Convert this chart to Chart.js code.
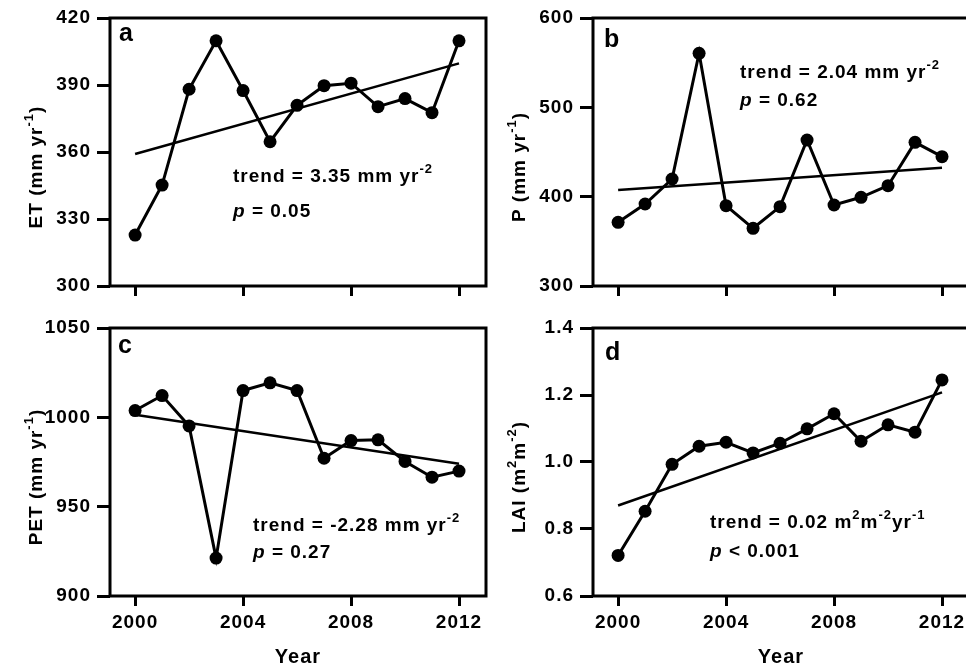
<!DOCTYPE html>
<html>
<head>
<meta charset="utf-8">
<script src="https://cdn.jsdelivr.net/npm/chart.js@4.4.1/dist/chart.umd.min.js"></script>
<style>
  html, body { margin: 0; padding: 0; background: #fff; overflow: hidden; }
  body { width: 966px; height: 669px; position: relative; }
  canvas { position: absolute; }
</style>
</head>
<body>
<canvas id="chartET" width="500" height="310" style="left:0;top:0"></canvas>
<canvas id="chartP" width="500" height="310" style="left:483px;top:0"></canvas>
<canvas id="chartPET" width="500" height="359" style="left:0;top:310px"></canvas>
<canvas id="chartLAI" width="500" height="359" style="left:483px;top:310px"></canvas>
<script>
// values, 2000-2012
const years = [2000, 2001, 2002, 2003, 2004, 2005, 2006, 2007, 2008, 2009, 2010, 2011, 2012];
const trendYears = [2000, 2012];
const yearTicks = [2000, 2004, 2008, 2012];

const etValues = [322.8, 345.2, 388.1, 409.8, 387.5, 364.6, 380.9, 389.7, 390.8, 380.3, 383.9, 377.6, 409.8];
const etTrend = [359.1, 399.7];
const etTicks = [300, 330, 360, 390, 420];

const pValues = [371.3, 391.8, 419.8, 560.5, 389.9, 364.6, 388.8, 463.4, 390.7, 399.3, 412.3, 460.8, 444.8];
const pTrend = [407.5, 432.5];
const pTicks = [300, 400, 500, 600];

const petValues = [1003.8, 1012.2, 995.2, 921.2, 1015.0, 1019.3, 1015.0, 977.1, 987.0, 987.4, 975.3, 966.5, 969.9];
const petTrend = [1001.4, 974.0];
const petTicks = [900, 950, 1000, 1050];

const laiValues = [0.721, 0.853, 0.993, 1.047, 1.059, 1.027, 1.056, 1.099, 1.144, 1.062, 1.111, 1.089, 1.245];
const laiTrend = [0.870, 1.208];
const laiTicks = [0.6, 0.8, 1.0, 1.2, 1.4];

const FAMILY = '"Liberation Sans", Arial, sans-serif';
const SPACING = '1px';

Chart.defaults.font.family = FAMILY;
Chart.defaults.font.size = 19;
Chart.defaults.font.weight = 'bold';
Chart.defaults.color = '#000';

function fontFor(kind) {
  if (kind === 'sup') return 'bold 13px ' + FAMILY;
  if (kind === 'it') return 'italic bold 19px ' + FAMILY;
  return 'bold 19px ' + FAMILY;
}

// text with superscripts / italic pieces
function drawRich(ctx, parts, x, y, align) {
  let total = 0;
  const widths = parts.map(([t, k]) => {
    ctx.font = fontFor(k);
    const w = ctx.measureText(t).width;
    total += w;
    return w;
  });
  let cx = align === 'center' ? x - total / 2 : x;
  ctx.textAlign = 'left';
  ctx.textBaseline = 'alphabetic';
  parts.forEach(([t, k], i) => {
    ctx.font = fontFor(k);
    ctx.fillText(t, cx, k === 'sup' ? y - 9 : y);
    cx += widths[i];
  });
}

const panelText = {
  id: 'panelText',
  beforeDraw(chart) {
    chart.ctx.letterSpacing = SPACING;
  },
  afterDraw(chart, args, opts) {
    const ctx = chart.ctx;
    const a = chart.chartArea;
    ctx.save();
    ctx.strokeStyle = '#000';
    ctx.lineWidth = 3;
    ctx.strokeRect(a.left, a.top, a.right - a.left, a.bottom - a.top);
    ctx.fillStyle = '#000';
    ctx.font = 'bold 25px ' + FAMILY;
    ctx.textAlign = 'left';
    ctx.textBaseline = 'alphabetic';
    ctx.fillText(opts.letter, opts.letterAt[0], opts.letterAt[1]);
    opts.notes.forEach(n => drawRich(ctx, n.parts, n.x, n.y, 'left'));
    ctx.translate(42, (a.top + a.bottom) / 2 + 15);
    ctx.rotate(-Math.PI / 2);
    drawRich(ctx, opts.title, 0, 0, 'center');
    ctx.restore();
  }
};

function makeChart(id, values, trend, yTicks, decimals, showYear, text) {
  const canvas = document.getElementById(id);
  return new Chart(canvas, {
    type: 'line',
    data: {
      datasets: [{
        data: years.map((x, i) => ({ x: x, y: values[i] })),
        borderColor: '#000',
        borderWidth: 3,
        pointRadius: 6.5,
        pointBackgroundColor: '#000',
        pointBorderColor: '#000',
        pointBorderWidth: 0,
        tension: 0,
        fill: false
      }, {
        data: trendYears.map((x, i) => ({ x: x, y: trend[i] })),
        borderColor: '#000',
        borderWidth: 2.5,
        pointRadius: 0,
        fill: false
      }]
    },
    options: {
      responsive: false,
      animation: false,
      devicePixelRatio: 1,
      layout: { padding: { top: 18, right: 14, left: 0, bottom: 0 } },
      plugins: {
        legend: { display: false },
        tooltip: { enabled: false },
        panelText: text
      },
      scales: {
        x: {
          type: 'linear',
          min: 1999.07,
          max: 2013,
          afterBuildTicks: s => { s.ticks = yearTicks.map(v => ({ value: v })); },
          afterFit: s => { s.height = showYear ? 73 : 24; },
          border: { display: false },
          grid: { drawOnChartArea: false, drawTicks: true, tickLength: 10, tickWidth: 3, tickColor: '#000' },
          ticks: { display: showYear, padding: 5, color: '#000', maxRotation: 0, callback: v => String(v) },
          title: { display: showYear, text: 'Year', color: '#000', font: { size: 20, weight: 'bold' }, padding: { top: 0, bottom: 0 } }
        },
        y: {
          min: yTicks[0],
          max: yTicks[yTicks.length - 1],
          afterBuildTicks: s => { s.ticks = yTicks.map(v => ({ value: v })); },
          afterFit: s => { s.width = 110; },
          border: { display: false },
          grid: { drawOnChartArea: false, drawTicks: true, tickLength: 13, tickWidth: 3, tickColor: '#000' },
          ticks: { padding: 6, color: '#000', callback: v => Number(v).toFixed(decimals) }
        }
      }
    },
    plugins: [panelText]
  });
}

makeChart('chartET', etValues, etTrend, etTicks, 0, false, {
  letter: 'a', letterAt: [119, 41],
  title: [['ET (mm yr'], ['-1', 'sup'], [')']],
  notes: [
    { x: 233, y: 182, parts: [['trend = 3.35 mm yr'], ['-2', 'sup']] },
    { x: 233, y: 217, parts: [['p', 'it'], [' = 0.05']] }
  ]
});

makeChart('chartP', pValues, pTrend, pTicks, 0, false, {
  letter: 'b', letterAt: [121, 47],
  title: [['P (mm yr'], ['-1', 'sup'], [')']],
  notes: [
    { x: 257, y: 78, parts: [['trend = 2.04 mm yr'], ['-2', 'sup']] },
    { x: 257, y: 106, parts: [['p', 'it'], [' = 0.62']] }
  ]
});

makeChart('chartPET', petValues, petTrend, petTicks, 0, true, {
  letter: 'c', letterAt: [118, 43],
  title: [['PET (mm yr'], ['-1', 'sup'], [')']],
  notes: [
    { x: 253, y: 221, parts: [['trend = -2.28 mm yr'], ['-2', 'sup']] },
    { x: 253, y: 248, parts: [['p', 'it'], [' = 0.27']] }
  ]
});

makeChart('chartLAI', laiValues, laiTrend, laiTicks, 1, true, {
  letter: 'd', letterAt: [122, 50],
  title: [['LAI (m'], ['2', 'sup'], ['m'], ['-2', 'sup'], [')']],
  notes: [
    { x: 227, y: 218, parts: [['trend = 0.02 m'], ['2', 'sup'], ['m'], ['-2', 'sup'], ['yr'], ['-1', 'sup']] },
    { x: 227, y: 247, parts: [['p', 'it'], [' < 0.001']] }
  ]
});
</script>
</body>
</html>
